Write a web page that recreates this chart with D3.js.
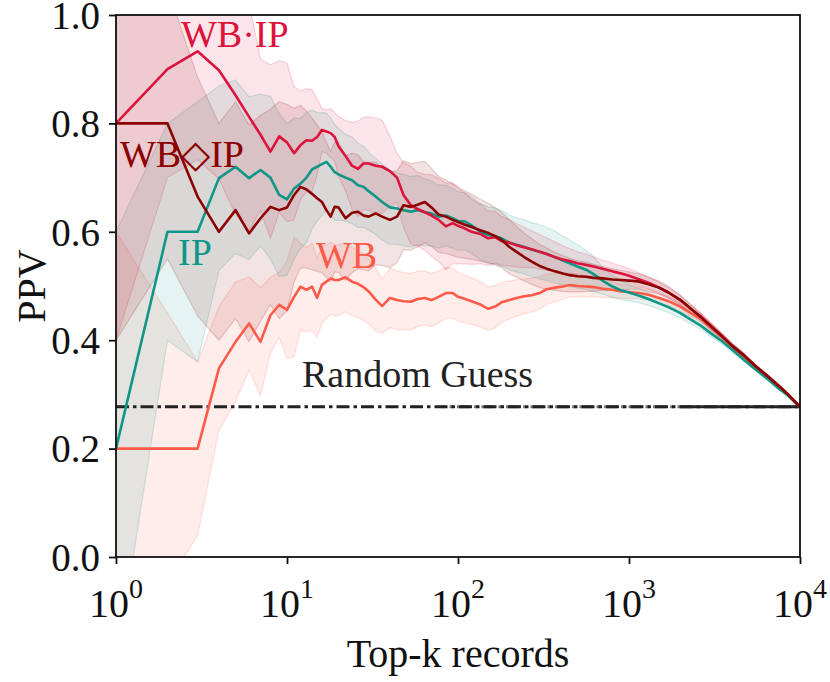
<!DOCTYPE html>
<html><head><meta charset="utf-8">
<script src="https://cdn.jsdelivr.net/npm/d3@7"></script>
<style>
body{margin:0;background:#fff}
text{font-family:"Liberation Serif","Times New Roman",Times,serif}
</style>
</head><body>
<svg id="c" width="830" height="682"></svg>
<script>
// ---------- data ----------
const K = [1,2,3,4,5,6,7,8,9,10,
  11,12,13,14,15,16,17,18,19,20,
  22,24,26,28,30,33,36,40,44,48,
  53,58,64,70,77,85,93,100,110,120,
  135,150,165,180,200,220,245,270,300,330,
  370,410,450,500,560,620,700,800,900,1000,
  1150,1300,1500,1700,2000,2300,2600,3000,3500,4000,
  4700,5500,6500,7500,8500,10000];

const wbDotIpMean = [0.800,0.900,0.933,0.898,0.852,0.812,0.779,0.748,0.776,0.765,
  0.745,0.760,0.769,0.768,0.775,0.788,0.785,0.782,0.775,0.758,
  0.740,0.722,0.716,0.726,0.726,0.722,0.720,0.712,0.700,0.668,
  0.649,0.642,0.636,0.630,0.622,0.610,0.616,0.611,0.606,0.600,
  0.596,0.588,0.590,0.583,0.580,0.575,0.571,0.568,0.563,0.559,
  0.553,0.549,0.546,0.542,0.539,0.536,0.532,0.527,0.523,0.519,
  0.512,0.506,0.497,0.488,0.474,0.458,0.445,0.427,0.408,0.390,
  0.372,0.352,0.333,0.316,0.300,0.277];
const wbDotIpSpread = [0.40,0.20,0.20,0.20,0.22,0.21,0.14,0.16,0.14,0.146,
  0.123,0.10,0.095,0.094,0.07,0.04,0.04,0.045,0.045,0.055,
  0.065,0.08,0.088,0.085,0.086,0.088,0.086,0.065,0.045,0.06,
  0.072,0.068,0.07,0.075,0.077,0.08,0.075,0.07,0.065,0.06,
  0.055,0.05,0.048,0.045,0.043,0.04,0.037,0.034,0.032,0.03,
  0.028,0.025,0.023,0.021,0.02,0.018,0.016,0.015,0.014,0.013,
  0.012,0.011,0.010,0.009,0.008,0.007,0.006,0.006,0.005,0.004,
  0.004,0.003,0.003,0.002,0.002,0.0];

const wbDiaIpMean = [0.800,0.800,0.665,0.600,0.640,0.597,0.625,0.646,0.640,0.645,
  0.668,0.683,0.678,0.670,0.662,0.655,0.640,0.628,0.646,0.645,
  0.625,0.635,0.637,0.630,0.628,0.634,0.628,0.622,0.628,0.649,
  0.646,0.650,0.655,0.645,0.632,0.628,0.622,0.618,0.613,0.609,
  0.603,0.598,0.592,0.585,0.572,0.563,0.553,0.545,0.537,0.532,
  0.527,0.523,0.520,0.518,0.517,0.515,0.514,0.512,0.511,0.510,
  0.508,0.503,0.497,0.488,0.474,0.458,0.444,0.426,0.407,0.390,
  0.372,0.352,0.333,0.316,0.300,0.277];
const wbDiaIpSpread = [0.40,0.25,0.22,0.20,0.20,0.20,0.19,0.18,0.20,0.19,
  0.16,0.15,0.145,0.14,0.135,0.13,0.125,0.12,0.12,0.12,
  0.115,0.11,0.105,0.10,0.10,0.095,0.09,0.088,0.085,0.082,
  0.08,0.078,0.075,0.072,0.07,0.068,0.066,0.065,0.062,0.06,
  0.057,0.055,0.053,0.051,0.05,0.047,0.044,0.042,0.04,0.038,
  0.035,0.033,0.031,0.029,0.027,0.025,0.022,0.02,0.018,0.016,
  0.014,0.013,0.012,0.011,0.009,0.008,0.007,0.006,0.005,0.005,
  0.004,0.003,0.003,0.002,0.002,0.0];

const ipMean = [0.200,0.600,0.600,0.699,0.720,0.699,0.714,0.700,0.668,0.660,
  0.680,0.689,0.700,0.715,0.720,0.725,0.729,0.720,0.710,0.706,
  0.700,0.695,0.686,0.683,0.675,0.665,0.655,0.645,0.643,0.640,
  0.637,0.640,0.636,0.634,0.628,0.630,0.625,0.620,0.619,0.612,
  0.600,0.594,0.592,0.588,0.580,0.576,0.572,0.567,0.563,0.559,
  0.553,0.547,0.542,0.536,0.530,0.522,0.510,0.499,0.492,0.488,
  0.482,0.476,0.468,0.461,0.450,0.438,0.428,0.413,0.398,0.383,
  0.364,0.346,0.328,0.311,0.298,0.277];
const ipSpread = [0.40,0.20,0.24,0.17,0.16,0.15,0.14,0.15,0.15,0.14,
  0.13,0.12,0.12,0.11,0.10,0.095,0.09,0.09,0.088,0.085,
  0.08,0.08,0.078,0.075,0.072,0.07,0.07,0.068,0.066,0.066,
  0.065,0.064,0.062,0.06,0.058,0.056,0.055,0.054,0.053,0.052,
  0.052,0.052,0.052,0.051,0.051,0.05,0.05,0.05,0.05,0.049,
  0.048,0.045,0.043,0.04,0.036,0.032,0.025,0.02,0.017,0.015,
  0.013,0.012,0.011,0.01,0.009,0.008,0.007,0.006,0.005,0.005,
  0.004,0.003,0.003,0.002,0.002,0.0];

const wbMean = [0.200,0.200,0.200,0.348,0.397,0.431,0.397,0.446,0.465,0.456,
  0.480,0.499,0.493,0.499,0.478,0.502,0.508,0.514,0.511,0.511,
  0.516,0.508,0.504,0.498,0.490,0.475,0.463,0.478,0.474,0.472,
  0.471,0.476,0.478,0.474,0.480,0.487,0.487,0.480,0.476,0.472,
  0.466,0.458,0.462,0.470,0.474,0.478,0.481,0.483,0.487,0.494,
  0.497,0.499,0.502,0.500,0.499,0.498,0.495,0.493,0.490,0.489,
  0.487,0.484,0.478,0.472,0.462,0.450,0.440,0.424,0.406,0.389,
  0.371,0.351,0.332,0.315,0.300,0.277];
const wbSpread = [0.40,0.25,0.16,0.114,0.11,0.086,0.10,0.07,0.06,0.09,
  0.11,0.08,0.078,0.08,0.073,0.07,0.068,0.067,0.066,0.065,
  0.064,0.063,0.062,0.061,0.06,0.058,0.05,0.055,0.054,0.053,
  0.052,0.051,0.05,0.049,0.048,0.047,0.046,0.045,0.044,0.043,
  0.042,0.04,0.039,0.037,0.035,0.034,0.032,0.031,0.03,0.028,
  0.026,0.024,0.022,0.02,0.019,0.018,0.016,0.015,0.013,0.012,
  0.011,0.01,0.009,0.008,0.008,0.007,0.006,0.006,0.005,0.004,
  0.004,0.003,0.003,0.002,0.002,0.0];

const randomGuess = 0.277;
const yTicks = [0,0.2,0.4,0.6,0.8,1.0];
const xTicks = [1,10,100,1000,10000];
const xTickExp = ["0","1","2","3","4"];

// ---------- layout ----------
const svg = d3.select("#c");
const L = 116, R = 800, T = 15, B = 557;
const x = d3.scaleLog().domain([1,10000]).range([L,R]);
const y = d3.scaleLinear().domain([0,1]).range([B,T]);

svg.append("defs").append("clipPath").attr("id","clip")
  .append("rect").attr("x",L).attr("y",T).attr("width",R-L).attr("height",B-T);

const series = [
  {name:"WB", mean:wbMean, spread:wbSpread, color:"#ff5a48"},
  {name:"IP", mean:ipMean, spread:ipSpread, color:"#0e9686"},
  {name:"WB·IP", mean:wbDotIpMean, spread:wbDotIpSpread, color:"#dc143c"},
  {name:"WB◇IP", mean:wbDiaIpMean, spread:wbDiaIpSpread, color:"#8b0000"}
];

const plot = svg.append("g").attr("clip-path","url(#clip)");

const area = d3.area().x(d=>x(d.k)).y0(d=>y(d.m-d.s)).y1(d=>y(d.m+d.s));
const line = d3.line().x(d=>x(d.k)).y(d=>y(d.m));

series.forEach(s=>{
  const pts = K.map((k,i)=>({k, m:s.mean[i], s:s.spread[i]}));
  s.pts = pts;
  plot.append("path").datum(pts).attr("d",area)
    .attr("fill",s.color).attr("fill-opacity",0.11)
    .attr("stroke",s.color).attr("stroke-opacity",0.17).attr("stroke-width",1.2);
});

// random guess (dash-dot, densifying toward the right)
const rgLine = d3.line().x(d=>x(d.k)).y(()=>y(randomGuess));
plot.append("path").datum([{k:1},{k:10000}]).attr("d",rgLine)
  .attr("fill","none").attr("stroke","#222").attr("stroke-width",3)
  .attr("stroke-dasharray","13,4,3.5,4");
plot.append("path").datum([{k:80},{k:2000}]).attr("d",rgLine)
  .attr("fill","none").attr("stroke","#222").attr("stroke-width",3).attr("stroke-opacity",0.6)
  .attr("stroke-dasharray","13,4,3.5,4").attr("stroke-dashoffset",9);
plot.append("path").datum([{k:2000},{k:10000}]).attr("d",rgLine)
  .attr("fill","none").attr("stroke","#222").attr("stroke-width",3);

series.forEach(s=>{
  plot.append("path").datum(s.pts).attr("d",line)
    .attr("fill","none").attr("stroke",s.color).attr("stroke-width",2.6)
    .attr("stroke-linejoin","round");
});

// frame
svg.append("rect").attr("x",L).attr("y",T).attr("width",R-L).attr("height",B-T)
  .attr("fill","none").attr("stroke","#111").attr("stroke-width",1.8);

// axes
const yAxis = svg.append("g").attr("transform",`translate(${L},0)`)
  .call(d3.axisLeft(y).tickValues(yTicks).tickSize(7).tickPadding(9).tickFormat(d3.format(".1f")));
yAxis.select(".domain").remove();
yAxis.selectAll("line").attr("stroke","#111").attr("stroke-width",1.8);
yAxis.selectAll("text").attr("font-size",39).attr("fill","#111")
  .attr("font-family","'Liberation Serif','Times New Roman',serif").attr("dy","0.34em");

const xAxis = svg.append("g").attr("transform",`translate(0,${B})`)
  .call(d3.axisBottom(x).tickValues(xTicks).tickSize(7).tickFormat(""));
xAxis.select(".domain").remove();
xAxis.selectAll("line").attr("stroke","#111").attr("stroke-width",1.8);
xTicks.forEach((t,i)=>{
  const tx = svg.append("text").attr("x",x(t)).attr("y",617)
    .attr("text-anchor","middle").attr("fill","#111").attr("font-size",40);
  tx.append("tspan").text("10");
  tx.append("tspan").attr("font-size",28).attr("dy",-19).text(xTickExp[i]);
});

// axis labels
svg.append("text").attr("x",(L+R)/2).attr("y",667).attr("text-anchor","middle")
  .attr("font-size",40).attr("fill","#111").text("Top-k records");
svg.append("text").attr("transform",`translate(45,${(T+B)/2}) rotate(-90)`)
  .attr("text-anchor","middle").attr("font-size",40).attr("fill","#111").text("PPV");

// series labels
const labels = [
  {t:"WB·IP", c:"#dc143c", x:181, y:47},
  {t:"WB◇IP", c:"#8b0000", x:120, y:167},
  {t:"IP", c:"#0e9686", x:178, y:265},
  {t:"WB", c:"#ff5a48", x:316, y:268},
  {t:"Random Guess", c:"#222", x:302, y:387}
];
labels.forEach(l=>{
  svg.append("text").attr("x",l.x).attr("y",l.y).attr("fill",l.c)
    .attr("font-size",38).text(l.t);
});
</script>
</body></html>
